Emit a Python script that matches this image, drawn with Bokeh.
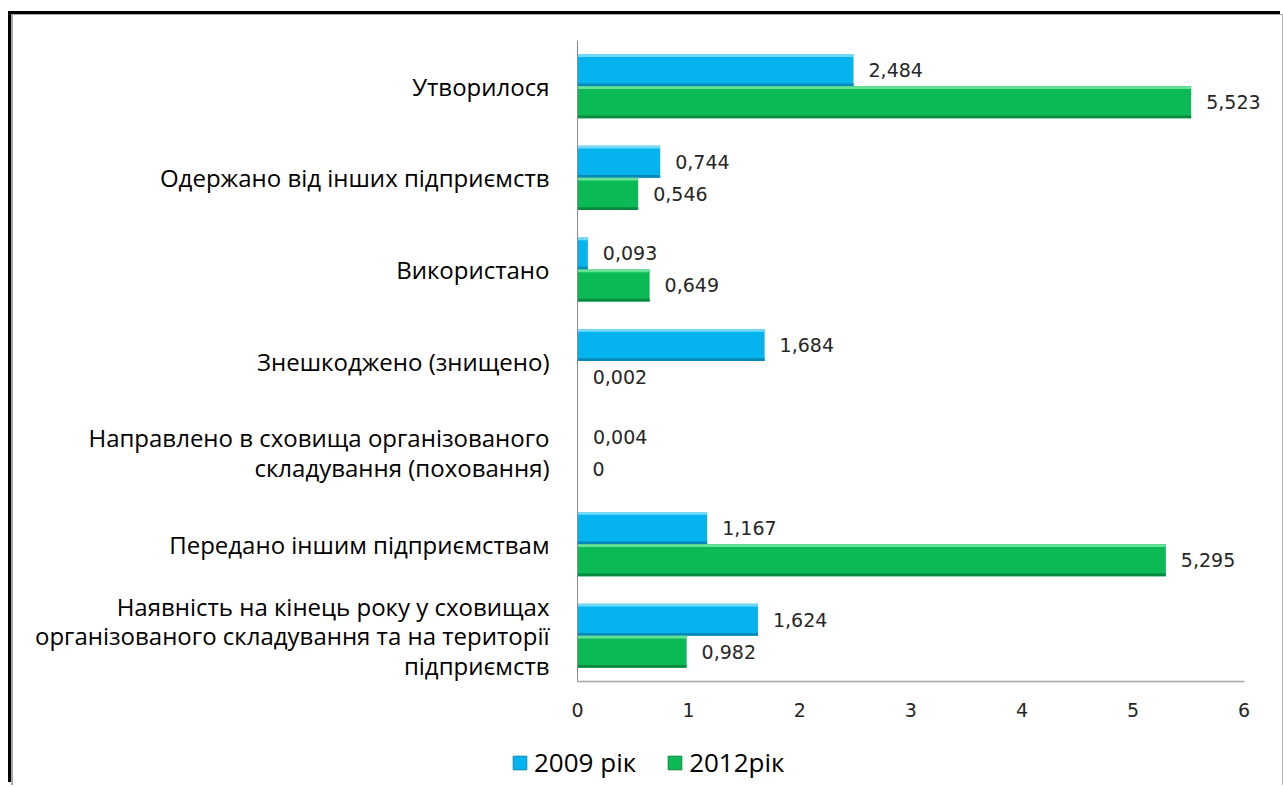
from bokeh.plotting import figure
from bokeh.layouts import column
from bokeh.models import ColumnDataSource, FactorRange, Range1d, FixedTicker, Legend, LegendItem
from bokeh.transform import dodge
from bokeh.core.properties import value
from bokeh.embed import file_html
from bokeh.resources import INLINE

categories = [
    "Утворилося",
    "Одержано від інших підприємств",
    "Використано",
    "Знешкоджено (знищено)",
    "Направлено в сховища організованого\nскладування (поховання)",
    "Передано іншим підприємствам",
    "Наявність на кінець року у сховищах\nорганізованого складування та на території\nпідприємств",
]
v2009 = [2.484, 0.744, 0.093, 1.684, 0.004, 1.167, 1.624]
v2012 = [5.523, 0.546, 0.649, 0.002, 0.0, 5.295, 0.982]
lab2009 = ["2,484", "0,744", "0,093", "1,684", "0,004", "1,167", "1,624"]
lab2012 = ["5,523", "0,546", "0,649", "0,002", "0", "5,295", "0,982"]
series = ["2009 рік", "2012рік"]
x_ticks = [0, 1, 2, 3, 4, 5, 6]

BLUE, BLUE_LT, BLUE_DK = "#05b3ee", "#74d9f8", "#0689b9"
GREEN, GREEN_LT, GREEN_DK = "#0bb955", "#66e197", "#078a3e"

src = ColumnDataSource(dict(cat=categories, v1=v2009, v2=v2012, l1=lab2009, l2=lab2012))

p = figure(
    width=1269, height=725,
    y_range=FactorRange(*reversed(categories)),
    x_range=Range1d(0, 6.3),
    output_backend="svg", toolbar_location=None,
    min_border_left=564, min_border_right=5, min_border_top=25, min_border_bottom=59,
)
p.frame_align = False
p.background_fill_color = "white"
p.border_fill_color = "white"
p.outline_line_color = None
p.xgrid.grid_line_color = None
p.ygrid.grid_line_color = None

H = 0.35
S = 0.03
# blue bars (upper half)
p.hbar(y=dodge("cat", H / 2, range=p.y_range), right="v1", height=H, source=src,
       fill_color=BLUE, line_color=None)
p.hbar(y=dodge("cat", H - S / 2, range=p.y_range), right="v1", height=S, source=src,
       fill_color=BLUE_LT, line_color=None)
p.hbar(y=dodge("cat", S / 2, range=p.y_range), right="v1", height=S, source=src,
       fill_color=BLUE_DK, line_color=None)
# green bars (lower half)
p.hbar(y=dodge("cat", -H / 2, range=p.y_range), right="v2", height=H, source=src,
       fill_color=GREEN, line_color=None)
p.hbar(y=dodge("cat", -S / 2, range=p.y_range), right="v2", height=S, source=src,
       fill_color=GREEN_LT, line_color=None)
p.hbar(y=dodge("cat", -H + S / 2, range=p.y_range), right="v2", height=S, source=src,
       fill_color=GREEN_DK, line_color=None)

# value labels
for col, lab, off in (("v1", "l1", H / 2), ("v2", "l2", -H / 2)):
    p.text(x=col, y=dodge("cat", off, range=p.y_range), text=lab, source=src,
           x_offset=15, text_baseline="middle", text_align="left",
           text_font=value("DejaVu Sans"), text_font_size="19px", text_color="#262626")

# axes
p.yaxis.major_label_text_font = "Open Sans"
p.yaxis.major_label_text_font_size = "24px"
p.yaxis.major_label_text_line_height = 0.9
p.yaxis.major_label_text_color = "#000000"
p.yaxis.axis_line_color = "#8c8c8c"
p.yaxis.major_tick_line_color = None
p.yaxis.minor_tick_line_color = None
p.yaxis.major_label_standoff = 22

p.xaxis.ticker = FixedTicker(ticks=x_ticks)
p.xaxis.bounds = (min(x_ticks), max(x_ticks))
p.xaxis.axis_line_color = "#a6a6a6"
p.xaxis.axis_line_width = 1.5
p.xaxis.major_tick_line_color = None
p.xaxis.minor_tick_line_color = None
p.xaxis.major_label_text_font = "DejaVu Sans"
p.xaxis.major_label_text_font_size = "19px"
p.xaxis.major_label_text_color = "#262626"
p.xaxis.major_label_standoff = 15

# legend strip below the chart (zero-length helper bars only carry the legend styles)
pl = figure(width=1269, height=45, x_range=Range1d(0, 1), y_range=Range1d(0, 1),
            output_backend="svg", toolbar_location=None, min_border=0)
pl.frame_align = False
pl.axis.visible = False
pl.grid.visible = False
pl.outline_line_color = None
pl.background_fill_color = "white"
pl.border_fill_color = "white"
lb = pl.hbar(y=[0], left=[0], right=[0], height=0, fill_color=BLUE, line_color=BLUE_DK)
lg = pl.hbar(y=[0], left=[0], right=[0], height=0, fill_color=GREEN, line_color=GREEN_DK)
legend = Legend(
    items=[LegendItem(label=series[0], renderers=[lb]), LegendItem(label=series[1], renderers=[lg])],
    orientation="horizontal", location=(498, 5),
    padding=0, margin=0, spacing=30, label_standoff=6,
    glyph_width=17, glyph_height=17,
    label_text_font="Open Sans", label_text_font_size="26px", label_text_color="#000000",
    border_line_color=None, background_fill_alpha=0,
)
pl.add_layout(legend, "center")

layout = column(p, pl, spacing=0)
layout.styles = {
    "margin-left": "11px",
    "margin-top": "14px",
    "border-left": "2px solid #a6a6a6",
    "border-top": "1px solid #a6a6a6",
    "border-right": "1px solid #b4b4b4",
    "box-shadow": "-3px -3px 0 0 #000000",
}

open("out.html", "w").write(file_html(layout, INLINE))
